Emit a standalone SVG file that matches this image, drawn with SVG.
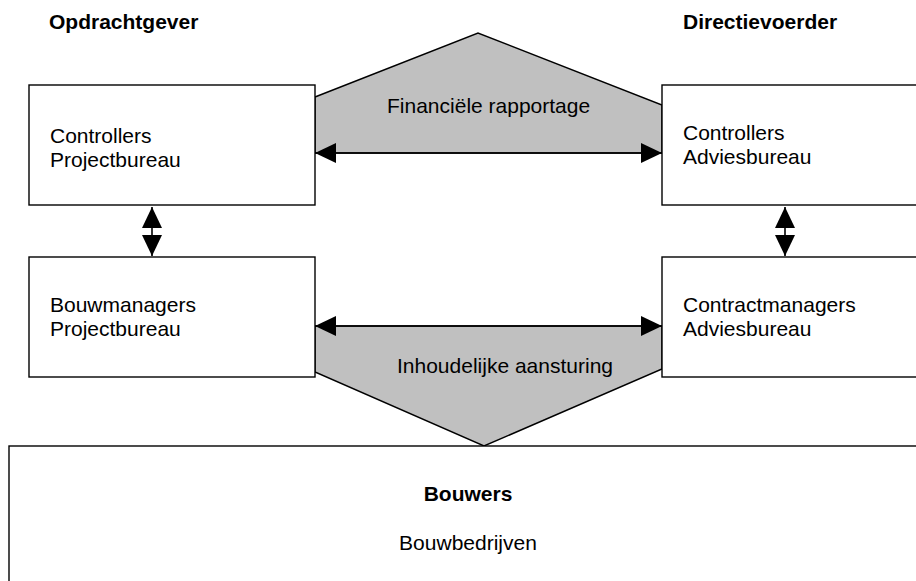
<svg xmlns="http://www.w3.org/2000/svg" width="916" height="581" viewBox="0 0 916 581">
  <style>
    .box { fill: #ffffff; stroke: #000000; stroke-width: 1.4; }
    .band { fill: #c0c0c0; stroke: #000000; stroke-width: 1.4; stroke-linejoin: miter; }
    .conn { fill: none; stroke: #000000; stroke-width: 1.6; marker-start: url(#head); marker-end: url(#head); }
    text { font-family: "Liberation Sans", Arial, sans-serif; font-size: 21px; fill: #000000; }
    .bold { font-weight: bold; }
    .mid { text-anchor: middle; }
  </style>
  <defs>
    <marker id="head" markerUnits="userSpaceOnUse" viewBox="0 0 21 20" refX="21" refY="10" markerWidth="21" markerHeight="20" orient="auto-start-reverse">
      <path d="M0,0 L21,10 L0,20 Z" fill="#000000"/>
    </marker>
  </defs>

  <rect width="916" height="581" fill="#ffffff"/>

  <!-- column headings -->
  <text class="bold" x="49" y="29">Opdrachtgever</text>
  <text class="bold" x="683" y="29">Directievoerder</text>

  <!-- shaded bands behind the boxes -->
  <g id="band-financieel">
    <path class="band" d="M315,97 L478,33 L662,105 L662,153 L315,153 Z"/>
    <text x="387" y="113">Financiële rapportage</text>
  </g>
  <g id="band-inhoudelijk">
    <path class="band" d="M315,326 L662,326 L662,369 L484,446 L315,372 Z"/>
    <text x="397" y="373">Inhoudelijke aansturing</text>
  </g>

  <!-- bottom box -->
  <g id="bouwers">
    <rect class="box" x="9" y="446" width="920" height="160"/>
    <text class="bold mid" x="468" y="501">Bouwers</text>
    <text class="mid" x="468" y="550">Bouwbedrijven</text>
  </g>

  <!-- organisation boxes -->
  <g id="controllers-projectbureau">
    <rect class="box" x="29" y="85" width="286" height="120"/>
    <text x="50" y="143">Controllers</text>
    <text x="50" y="167">Projectbureau</text>
  </g>
  <g id="bouwmanagers-projectbureau">
    <rect class="box" x="29" y="257" width="286" height="120"/>
    <text x="50" y="312">Bouwmanagers</text>
    <text x="50" y="336">Projectbureau</text>
  </g>
  <g id="controllers-adviesbureau">
    <rect class="box" x="662" y="85" width="270" height="120"/>
    <text x="683" y="140">Controllers</text>
    <text x="683" y="164">Adviesbureau</text>
  </g>
  <g id="contractmanagers-adviesbureau">
    <rect class="box" x="662" y="257" width="270" height="120"/>
    <text x="683" y="312">Contractmanagers</text>
    <text x="683" y="336">Adviesbureau</text>
  </g>

  <!-- two-way connectors -->
  <g id="connectors">
    <line class="conn" x1="315" y1="153" x2="662" y2="153"/>
    <line class="conn" x1="315" y1="326" x2="662" y2="326"/>
    <line class="conn" x1="152" y1="207" x2="152" y2="256"/>
    <line class="conn" x1="785" y1="207" x2="785" y2="256"/>
  </g>
</svg>
